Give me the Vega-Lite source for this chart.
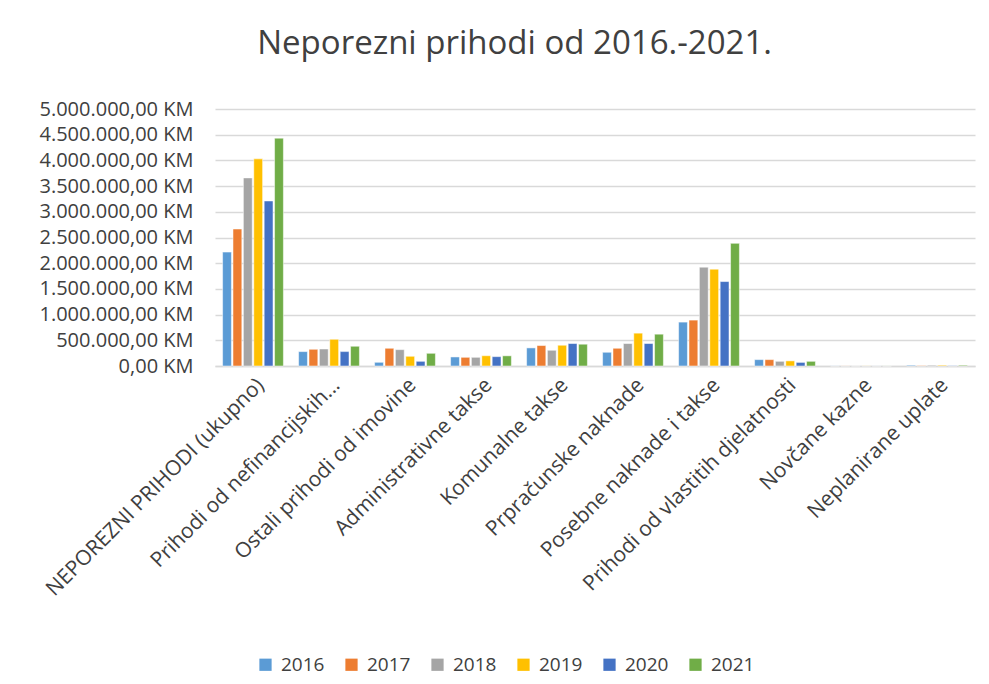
{
  "$schema": "https://vega.github.io/schema/vega-lite/v6.json",
  "width": 760,
  "height": 257,
  "padding": {"left": 38, "top": 28, "right": 5, "bottom": 5},
  "background": "white",
  "config": {
    "locale": {"number": {"decimal": ",", "thousands": ".", "grouping": [3], "currency": ["", " KM"]}},
    "view": {"stroke": null},
    "font": "Open Sans"
  },
  "title": {
    "text": "Neporezni prihodi od 2016.-2021.",
    "fontSize": 33,
    "font": "Open Sans",
    "fontWeight": "normal",
    "color": "#404040",
    "anchor": "middle",
    "frame": "bounds",
    "dx": 8,
    "offset": 38
  },
  "data": {
    "values": [
      {"kategorija": "NEPOREZNI PRIHODI  (ukupno)", "godina": "2016", "iznos": 2216000},
      {"kategorija": "NEPOREZNI PRIHODI  (ukupno)", "godina": "2017", "iznos": 2665000},
      {"kategorija": "NEPOREZNI PRIHODI  (ukupno)", "godina": "2018", "iznos": 3660000},
      {"kategorija": "NEPOREZNI PRIHODI  (ukupno)", "godina": "2019", "iznos": 4030000},
      {"kategorija": "NEPOREZNI PRIHODI  (ukupno)", "godina": "2020", "iznos": 3211000},
      {"kategorija": "NEPOREZNI PRIHODI  (ukupno)", "godina": "2021", "iznos": 4433000},
      {"kategorija": "Prihodi od nefinancijskih...", "godina": "2016", "iznos": 280000},
      {"kategorija": "Prihodi od nefinancijskih...", "godina": "2017", "iznos": 325000},
      {"kategorija": "Prihodi od nefinancijskih...", "godina": "2018", "iznos": 331000},
      {"kategorija": "Prihodi od nefinancijskih...", "godina": "2019", "iznos": 520000},
      {"kategorija": "Prihodi od nefinancijskih...", "godina": "2020", "iznos": 280000},
      {"kategorija": "Prihodi od nefinancijskih...", "godina": "2021", "iznos": 384000},
      {"kategorija": "Ostali prihodi od imovine", "godina": "2016", "iznos": 72000},
      {"kategorija": "Ostali prihodi od imovine", "godina": "2017", "iznos": 345000},
      {"kategorija": "Ostali prihodi od imovine", "godina": "2018", "iznos": 318000},
      {"kategorija": "Ostali prihodi od imovine", "godina": "2019", "iznos": 189000},
      {"kategorija": "Ostali prihodi od imovine", "godina": "2020", "iznos": 91000},
      {"kategorija": "Ostali prihodi od imovine", "godina": "2021", "iznos": 247000},
      {"kategorija": "Administrativne takse", "godina": "2016", "iznos": 176000},
      {"kategorija": "Administrativne takse", "godina": "2017", "iznos": 169000},
      {"kategorija": "Administrativne takse", "godina": "2018", "iznos": 169000},
      {"kategorija": "Administrativne takse", "godina": "2019", "iznos": 200000},
      {"kategorija": "Administrativne takse", "godina": "2020", "iznos": 182000},
      {"kategorija": "Administrativne takse", "godina": "2021", "iznos": 198000},
      {"kategorija": "Komunalne takse", "godina": "2016", "iznos": 352000},
      {"kategorija": "Komunalne takse", "godina": "2017", "iznos": 398000},
      {"kategorija": "Komunalne takse", "godina": "2018", "iznos": 306000},
      {"kategorija": "Komunalne takse", "godina": "2019", "iznos": 404000},
      {"kategorija": "Komunalne takse", "godina": "2020", "iznos": 437000},
      {"kategorija": "Komunalne takse", "godina": "2021", "iznos": 424000},
      {"kategorija": "Prpračunske naknade", "godina": "2016", "iznos": 267000},
      {"kategorija": "Prpračunske naknade", "godina": "2017", "iznos": 345000},
      {"kategorija": "Prpračunske naknade", "godina": "2018", "iznos": 437000},
      {"kategorija": "Prpračunske naknade", "godina": "2019", "iznos": 639000},
      {"kategorija": "Prpračunske naknade", "godina": "2020", "iznos": 437000},
      {"kategorija": "Prpračunske naknade", "godina": "2021", "iznos": 619000},
      {"kategorija": "Posebne naknade i takse", "godina": "2016", "iznos": 854000},
      {"kategorija": "Posebne naknade i takse", "godina": "2017", "iznos": 893000},
      {"kategorija": "Posebne naknade i takse", "godina": "2018", "iznos": 1923000},
      {"kategorija": "Posebne naknade i takse", "godina": "2019", "iznos": 1884000},
      {"kategorija": "Posebne naknade i takse", "godina": "2020", "iznos": 1643000},
      {"kategorija": "Posebne naknade i takse", "godina": "2021", "iznos": 2386000},
      {"kategorija": "Prihodi od vlastitih djelatnosti", "godina": "2016", "iznos": 124000},
      {"kategorija": "Prihodi od vlastitih djelatnosti", "godina": "2017", "iznos": 124000},
      {"kategorija": "Prihodi od vlastitih djelatnosti", "godina": "2018", "iznos": 91000},
      {"kategorija": "Prihodi od vlastitih djelatnosti", "godina": "2019", "iznos": 100000},
      {"kategorija": "Prihodi od vlastitih djelatnosti", "godina": "2020", "iznos": 70000},
      {"kategorija": "Prihodi od vlastitih djelatnosti", "godina": "2021", "iznos": 91000},
      {"kategorija": "Novčane kazne", "godina": "2016", "iznos": 2000},
      {"kategorija": "Novčane kazne", "godina": "2017", "iznos": 2000},
      {"kategorija": "Novčane kazne", "godina": "2018", "iznos": 1500},
      {"kategorija": "Novčane kazne", "godina": "2019", "iznos": 2000},
      {"kategorija": "Novčane kazne", "godina": "2020", "iznos": 1000},
      {"kategorija": "Novčane kazne", "godina": "2021", "iznos": 1500},
      {"kategorija": "Neplanirane uplate", "godina": "2016", "iznos": 15000},
      {"kategorija": "Neplanirane uplate", "godina": "2017", "iznos": 8000},
      {"kategorija": "Neplanirane uplate", "godina": "2018", "iznos": 15000},
      {"kategorija": "Neplanirane uplate", "godina": "2019", "iznos": 15000},
      {"kategorija": "Neplanirane uplate", "godina": "2020", "iznos": 6000},
      {"kategorija": "Neplanirane uplate", "godina": "2021", "iznos": 15000}
    ]
  },
  "mark": {"type": "bar", "stroke": "white", "strokeWidth": 0.5},
  "encoding": {
    "x": {
      "field": "kategorija",
      "type": "nominal",
      "sort": null,
      "scale": {"paddingInner": 0.2, "paddingOuter": 0.1},
      "axis": {
        "title": null,
        "labelAngle": -45,
        "labelFontSize": 21,
        "labelColor": "#404040",
        "labelFont": "Open Sans",
        "labelLimit": 400,
        "labelOverlap": false,
        "ticks": false,
        "domainColor": "#D9D9D9",
        "domainWidth": 1.3,
        "labelPadding": 8
      }
    },
    "xOffset": {"field": "godina", "type": "nominal", "scale": {"paddingInner": 0.15}},
    "y": {
      "field": "iznos",
      "type": "quantitative",
      "scale": {"domain": [0, 5000000]},
      "axis": {
        "title": null,
        "format": "$,.2f",
        "values": [0, 500000, 1000000, 1500000, 2000000, 2500000, 3000000, 3500000, 4000000, 4500000, 5000000],
        "labelOverlap": false,
        "labelFontSize": 20,
        "labelColor": "#404040",
        "labelFont": "Open Sans",
        "labelPadding": 22,
        "ticks": false,
        "domain": false,
        "gridColor": "#D9D9D9",
        "gridWidth": 1.3
      }
    },
    "color": {
      "field": "godina",
      "type": "nominal",
      "scale": {
        "domain": ["2016", "2017", "2018", "2019", "2020", "2021"],
        "range": ["#5B9BD5", "#ED7D31", "#A5A5A5", "#FFC000", "#4472C4", "#70AD47"]
      },
      "legend": {
        "title": null,
        "orient": "none",
        "legendX": 41,
        "legendY": 546,
        "direction": "horizontal",
        "symbolType": "square",
        "symbolSize": 150,
        "symbolStrokeWidth": 0,
        "labelFontSize": 19,
        "labelColor": "#404040",
        "labelFont": "Open Sans",
        "labelOffset": 6,
        "columnPadding": 17
      }
    }
  }
}
